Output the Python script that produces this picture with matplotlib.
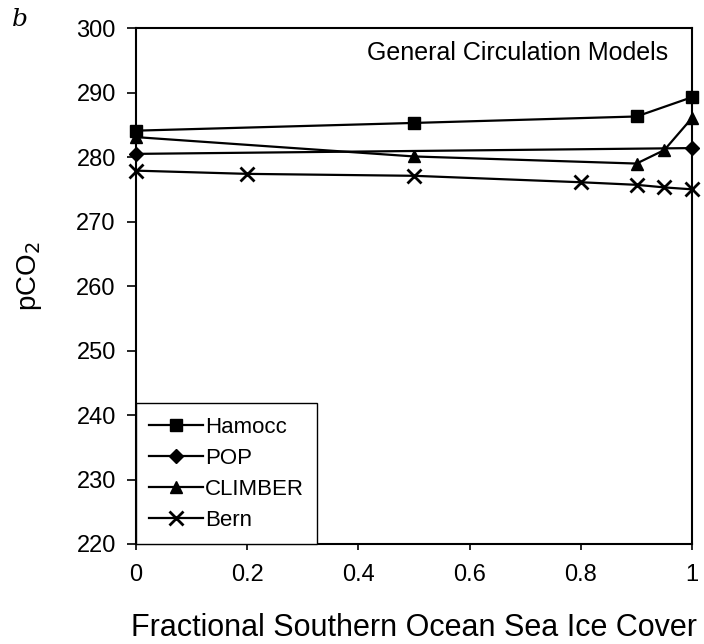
import matplotlib.pyplot as plt

plt.rcParams['font.family'] = ['Liberation Sans', 'DejaVu Sans']

# Hamocc
hamocc_x = [0.0, 0.5, 0.9, 1.0]
hamocc_y = [284.1, 285.3, 286.3, 289.3]
# POP
pop_x = [0.0, 1.0]
pop_y = [280.5, 281.4]
# CLIMBER
climber_x = [0.0, 0.5, 0.9, 0.95, 1.0]
climber_y = [283.1, 280.1, 279.0, 281.1, 286.1]
# Bern
bern_x = [0.0, 0.2, 0.5, 0.8, 0.9, 0.95, 1.0]
bern_y = [277.9, 277.4, 277.1, 276.1, 275.7, 275.3, 275.0]

xticks = [0, 0.2, 0.4, 0.6, 0.8, 1]
xtick_labels = ['0', '0.2', '0.4', '0.6', '0.8', '1']
yticks = list(range(220, 301, 10))

fig = plt.figure(figsize=(7.04, 6.44), dpi=100)
ax = fig.add_axes([0.1932, 0.1553, 0.790, 0.801])

kw = dict(color='black', linewidth=1.6, clip_on=False)
ax.plot(hamocc_x, hamocc_y, marker='s', markersize=8, label='Hamocc', **kw)
ax.plot(pop_x, pop_y, marker='D', markersize=7, label='POP', **kw)
ax.plot(climber_x, climber_y, marker='^', markersize=9, label='CLIMBER', **kw)
ax.plot(bern_x, bern_y, marker='x', markersize=10, markeredgewidth=2, label='Bern', **kw)

ax.set_xlim(0, 1)
ax.set_ylim(220, 300)
ax.set_xticks(xticks)
ax.set_xticklabels(xtick_labels)
ax.set_yticks(yticks)
ax.tick_params(direction='out', labelsize=17, width=1.2)
ax.tick_params(axis='y', length=6.5, pad=8)
ax.tick_params(axis='x', length=4.5, pad=10)
for s in ax.spines.values():
    s.set_linewidth(1.5)

ax.set_xlabel('Fractional Southern Ocean Sea Ice Cover', fontsize=22, va='center')
ax.xaxis.set_label_coords(0.5, (544 - 628) / 516)
fig.text(29 / 704, 1 - 276 / 644, 'pCO$_2$', fontsize=20, rotation=90,
         ha='center', va='center')

ax.text(0.957, 0.975, 'General Circulation Models', transform=ax.transAxes,
        ha='right', va='top', fontsize=18)
fig.text(20 / 704, 1 - 19 / 644, 'b', fontsize=18, style='italic', family='DejaVu Serif',
         ha='center', va='center')

leg = ax.legend(loc='lower left', borderaxespad=0, fancybox=False, framealpha=1,
                edgecolor='black', fontsize=16, handlelength=2.4, handletextpad=0.1,
                labelspacing=0.45, borderpad=0.6)
leg.get_frame().set_linewidth(1.0)

fig.savefig('out.png', dpi=100)
